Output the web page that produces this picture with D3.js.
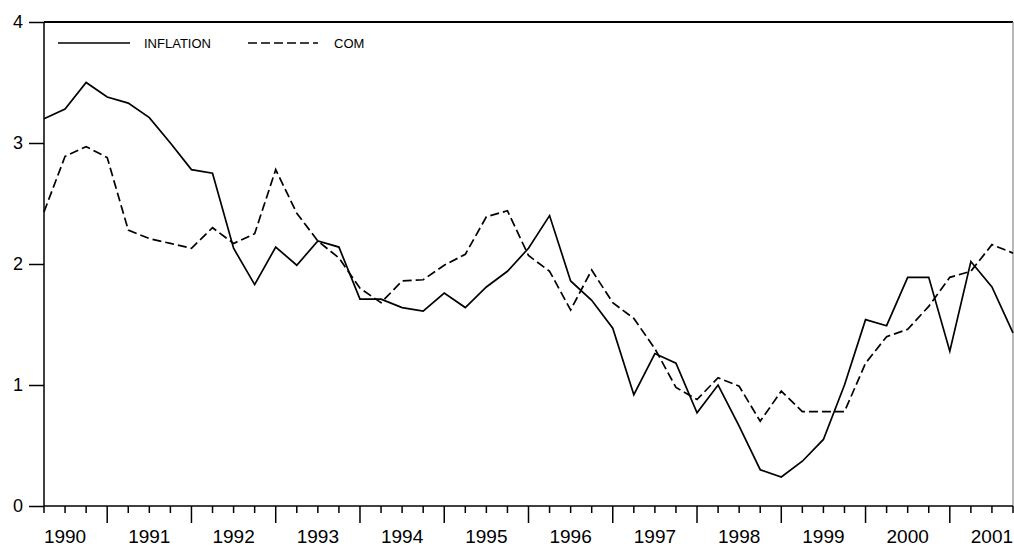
<!DOCTYPE html>
<html lang="en">
<head>
    <meta charset="UTF-8">
    <title>INFLATION vs COM</title>
    <script src="https://cdn.jsdelivr.net/npm/d3@7"></script>
    <style>
        body { margin: 0; background: #fff; }
        text { font-family: Arial, "Liberation Sans", sans-serif; fill: #000; }
        .axis path, .axis line { fill: none; stroke: #000; stroke-width: 1.5; }
        .axis text { font-size: 18px; }
        .xaxis text { font-size: 19px; }
        .series { fill: none; stroke: #000; stroke-width: 1.7; stroke-linejoin: miter; }
        .legend text { font-size: 13px; }
    </style>
</head>
<body>
<script>
    // quarterly data, 1990Q2 .. 2001Q4
    var years = [1990, 1991, 1992, 1993, 1994, 1995, 1996, 1997, 1998, 1999, 2000, 2001];
    var inflation = [3.20, 3.28, 3.50, 3.38, 3.33, 3.21, 3.00, 2.78, 2.75,
        2.13, 1.83, 2.14, 1.99, 2.19, 2.14, 1.71, 1.71, 1.64, 1.61, 1.76,
        1.64, 1.81, 1.94, 2.13, 2.40, 1.86, 1.70, 1.47, 0.92, 1.26, 1.18,
        0.77, 1.00, 0.66, 0.30, 0.24, 0.37, 0.55, 1.00, 1.54, 1.49, 1.89,
        1.89, 1.28, 2.02, 1.81, 1.43];
    var com = [2.43, 2.89, 2.97, 2.88, 2.28, 2.21, 2.17, 2.13, 2.30,
        2.17, 2.25, 2.78, 2.42, 2.19, 2.05, 1.80, 1.68, 1.86, 1.87, 1.99,
        2.08, 2.39, 2.44, 2.07, 1.94, 1.62, 1.95, 1.68, 1.55, 1.30, 0.98,
        0.88, 1.06, 0.99, 0.70, 0.95, 0.78, 0.78, 0.78, 1.18, 1.40, 1.46,
        1.65, 1.89, 1.94, 2.16, 2.09];
    var yTicks = [0, 1, 2, 3, 4];

    // quarter labels for every observation
    var quarters = [];
    years.forEach(function (yr) {
        [1, 2, 3, 4].forEach(function (q) {
            if (!(yr === 1990 && q === 1)) quarters.push(yr + "Q" + q);
        });
    });

    var width = 1014, height = 546;
    var plotLeft = 44, plotRight = 1013, plotTop = 22, plotBottom = 506;

    var svg = d3.select("body").append("svg")
        .attr("width", width)
        .attr("height", height);

    var x = d3.scaleLinear().domain([0, quarters.length - 1]).range([plotLeft, plotRight]);
    var y = d3.scaleLinear().domain([0, 4]).range([plotBottom, plotTop]);

    // frame (top black, right grey)
    svg.append("line").attr("x1", plotLeft).attr("x2", plotRight)
        .attr("y1", plotTop).attr("y2", plotTop)
        .attr("stroke", "#000").attr("stroke-width", 2);
    svg.append("line").attr("x1", plotRight).attr("x2", plotRight)
        .attr("y1", plotTop).attr("y2", plotBottom)
        .attr("stroke", "#8a8a8a").attr("stroke-width", 1.2);

    // y axis
    var yAxis = d3.axisLeft(y).tickValues(yTicks).tickSize(15).tickPadding(6)
        .tickFormat(d3.format("d"));
    var gy = svg.append("g").attr("class", "axis")
        .attr("transform", "translate(" + plotLeft + ",0)")
        .call(yAxis);
    gy.select(".domain").attr("d", "M0," + plotTop + "V" + plotBottom);

    // x axis: minor ticks each quarter, long ticks at Q1
    var gx = svg.append("g").attr("class", "axis xaxis")
        .attr("transform", "translate(0," + plotBottom + ")");
    gx.append("line").attr("x1", plotLeft).attr("x2", plotRight).attr("y1", 0).attr("y2", 0);
    gx.selectAll(".qtick")
        .data(quarters)
        .enter()
        .append("line")
        .attr("class", "qtick")
        .attr("x1", function (d, i) { return x(i); })
        .attr("x2", function (d, i) { return x(i); })
        .attr("y1", 0)
        .attr("y2", function (d) { return /Q1$/.test(d) ? 17 : 7; });
    gx.selectAll(".ylabel")
        .data(years)
        .enter()
        .append("text")
        .attr("class", "ylabel")
        .attr("x", function (d) { return x(quarters.indexOf(d + "Q2") + 1); })
        .attr("y", 37)
        .attr("text-anchor", "middle")
        .text(function (d) { return d; });

    // series
    var line = d3.line()
        .x(function (d, i) { return x(i); })
        .y(function (d) { return y(d); });
    svg.append("path").datum(inflation).attr("class", "series").attr("d", line);
    svg.append("path").datum(com).attr("class", "series")
        .attr("stroke-dasharray", "9,4").attr("d", line);

    // legend
    var lg = svg.append("g").attr("class", "legend");
    lg.append("line").attr("x1", 58).attr("x2", 130).attr("y1", 43).attr("y2", 43)
        .attr("stroke", "#000").attr("stroke-width", 1.7);
    lg.append("text").attr("x", 144).attr("y", 48).text("INFLATION");
    lg.append("line").attr("x1", 248).attr("x2", 318).attr("y1", 43).attr("y2", 43)
        .attr("stroke", "#000").attr("stroke-width", 1.7).attr("stroke-dasharray", "9,4");
    lg.append("text").attr("x", 334).attr("y", 48).text("COM");
</script>
</body>
</html>
